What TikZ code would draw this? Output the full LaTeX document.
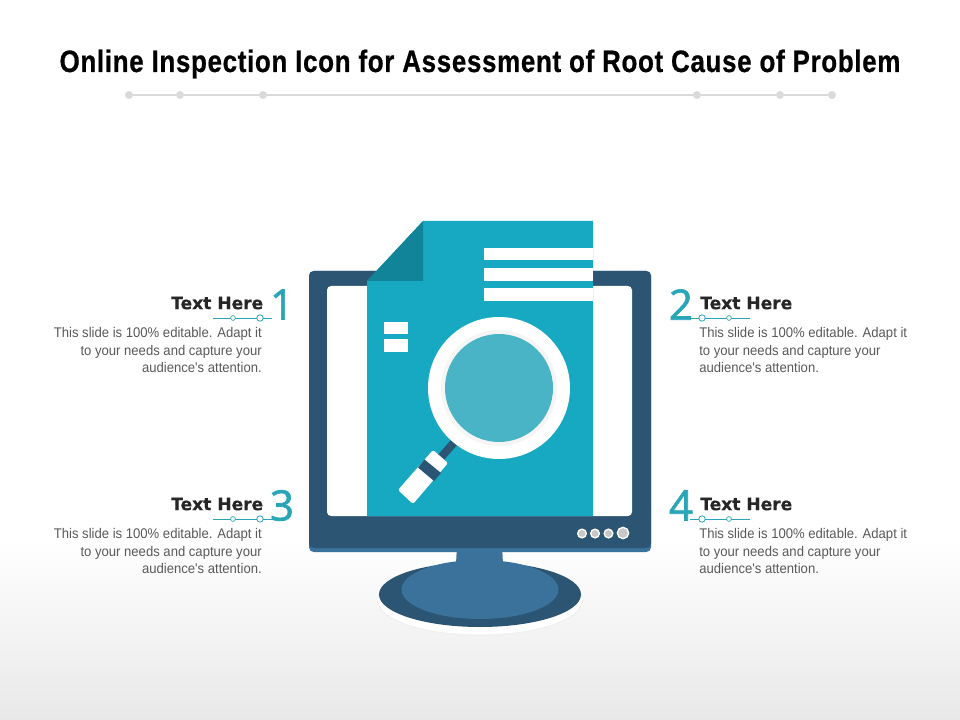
\documentclass[tikz,border=0pt]{standalone}
\usepackage{fontspec}
\setmainfont{Liberation Sans}
\newfontfamily\titlefont[FakeStretch=0.84,LetterSpace=2.1,FakeBold=0.6]{Liberation Sans Bold}
\newfontfamily\headfont[LetterSpace=-0.5,FakeBold=0.3]{DejaVu Sans Bold}
\newfontfamily\numfont[FakeBold=1.6]{Open Sans}
\newfontfamily\bodyfont[FakeStretch=0.935]{Liberation Sans}
\definecolor{navy}{HTML}{2B5573}
\definecolor{steel}{HTML}{3A729C}
\definecolor{docblue}{HTML}{16A9C1}
\definecolor{folddark}{HTML}{12849A}
\definecolor{lens}{HTML}{48B4C6}
\definecolor{teal}{HTML}{2AA5B8}
\definecolor{rulegrey}{HTML}{DADADA}
\tikzset{
  x=0.75pt,y=-0.75pt,
  titletext/.style={inner sep=0,font=\titlefont\fontsize{23.2}{26}\selectfont,text=black},
  headtext/.style={inner sep=0,font=\headfont\fontsize{12.9}{15}\selectfont,text=black!85},
  bodytext/.style={inner sep=0,font=\bodyfont\fontsize{10.5}{13.1}\selectfont,text=black!65},
  numtext/.style={inner sep=0,font=\numfont\fontsize{31.5}{36}\selectfont,text=teal},
  tealline/.style={draw=teal,line width=0.7pt},
  smalldot/.style={circle,draw=teal,fill=white,line width=0.5pt,inner sep=0,minimum size=3.6pt},
  bigdot/.style={circle,draw=teal,fill=white,line width=0.6pt,inner sep=0,minimum size=4.8pt},
  ruledot/.style={circle,fill=rulegrey,inner sep=0,minimum size=6pt},
  panel/.style={fill=white,rounded corners=3pt},
  knob/.style={circle,draw=white,fill=black!22,line width=1pt,inner sep=0},
}
\begin{document}
\begin{tikzpicture}
\useasboundingbox (0,0) rectangle (960,720);
\fill[white] (0,0) rectangle (960,720);
\fill[top color=white,bottom color=black!9] (0,540) rectangle (960,720);

% title and rule
\node[titletext] (title) at (480,64) {Online Inspection Icon for Assessment of Root Cause of Problem};
\node[ruledot] (r1) at (129,95) {};
\node[ruledot] (r2) at (180,95) {};
\node[ruledot] (r3) at (263,95) {};
\node[ruledot] (r4) at (697,95) {};
\node[ruledot] (r5) at (780,95) {};
\node[ruledot] (r6) at (832,95) {};
\draw[rulegrey,line width=1.4pt] (r1) -- (r2) -- (r3) -- (r4) -- (r5) -- (r6);

% monitor base
\fill[black!6] (480,601) ellipse [x radius=103,y radius=34.5];
\fill[white] (480,600) ellipse [x radius=102,y radius=34.5];
\fill[navy] (480,594.5) ellipse [x radius=101,y radius=32.5];
\fill[steel] (480,589.5) ellipse [x radius=78.5,y radius=29.5];
\fill[steel] (457,545) -- (502,545) -- (503,564) -- (456,564) -- cycle;

% monitor
\fill[steel,rounded corners=3.5pt] (309,271) rectangle (651,552);
\fill[navy,rounded corners=3.5pt] (309,271) -- (651,271) -- (651,548) -- (309,548) -- cycle;
\fill[panel] (327,286) rectangle (632,516);
\node[knob,minimum size=6.5pt] (k1) at (582,533.5) {};
\node[knob,minimum size=6.5pt] (k2) at (595,533.5) {};
\node[knob,minimum size=6.5pt] (k3) at (608.5,533.5) {};
\node[knob,minimum size=8.5pt] (k4) at (623,533) {};

% document
\fill[docblue] (423,221) -- (593,221) -- (593,516) -- (367,516) -- (367,281) -- cycle;
\fill[folddark] (423,221) -- (423,281) -- (367,281) -- cycle;
\fill[white] (484,248) rectangle (593,260);
\fill[white] (484,268) rectangle (593,281);
\fill[white] (484,288) rectangle (593,301);
\fill[white] (384,322) rectangle (408,334);
\fill[white] (384,339) rectangle (408,352);

% magnifier
\draw[navy,line width=6pt] (458,438) -- (436,463);
\fill[white,rounded corners=1.5pt] (433,450) -- (448,463) -- (413,504) -- (398,490) -- cycle;
\fill[navy] (424.5,459.5) -- (441,473) -- (434,481) -- (418,467.5) -- cycle;
\fill[white] (499,388) circle [radius=71];
\fill[black!4] (499,388) circle [radius=58];
\fill[lens] (499,388) circle [radius=54];

% label 1
\node[headtext,anchor=east] (h1) at (263.5,303) {Text Here};
\node[numtext,anchor=center] (n1) at (282,304.5) {1};
\node[bodytext,anchor=north east,align=right] (b1) at (262,327.5) {This slide is 100\% editable. Adapt it\\to your needs and capture your\\audience's attention.};
\coordinate (l1a) at (213,318); \coordinate (l1b) at (272,318);
\draw[tealline] (l1a) -- (l1b);
\node[smalldot] at (233,318) {};
\node[bigdot] at (260,318) {};

% label 2
\node[headtext,anchor=west] (h2) at (700,303) {Text Here};
\node[numtext,anchor=center] (n2) at (681,304.5) {2};
\node[bodytext,anchor=north west,align=left] (b2) at (699,327.5) {This slide is 100\% editable. Adapt it\\to your needs and capture your\\audience's attention.};
\coordinate (l2a) at (690,318); \coordinate (l2b) at (750,318);
\draw[tealline] (l2a) -- (l2b);
\node[bigdot] at (702,318) {};
\node[smalldot] at (729,318) {};

% label 3
\node[headtext,anchor=east] (h3) at (263.5,504) {Text Here};
\node[numtext,anchor=center] (n3) at (282,505.5) {3};
\node[bodytext,anchor=north east,align=right] (b3) at (262,528.5) {This slide is 100\% editable. Adapt it\\to your needs and capture your\\audience's attention.};
\coordinate (l3a) at (213,519); \coordinate (l3b) at (272,519);
\draw[tealline] (l3a) -- (l3b);
\node[smalldot] at (233,519) {};
\node[bigdot] at (260,519) {};

% label 4
\node[headtext,anchor=west] (h4) at (700,504) {Text Here};
\node[numtext,anchor=center] (n4) at (681,505.5) {4};
\node[bodytext,anchor=north west,align=left] (b4) at (699,528.5) {This slide is 100\% editable. Adapt it\\to your needs and capture your\\audience's attention.};
\coordinate (l4a) at (690,519); \coordinate (l4b) at (750,519);
\draw[tealline] (l4a) -- (l4b);
\node[bigdot] at (702,519) {};
\node[smalldot] at (729,519) {};
\end{tikzpicture}
\end{document}
